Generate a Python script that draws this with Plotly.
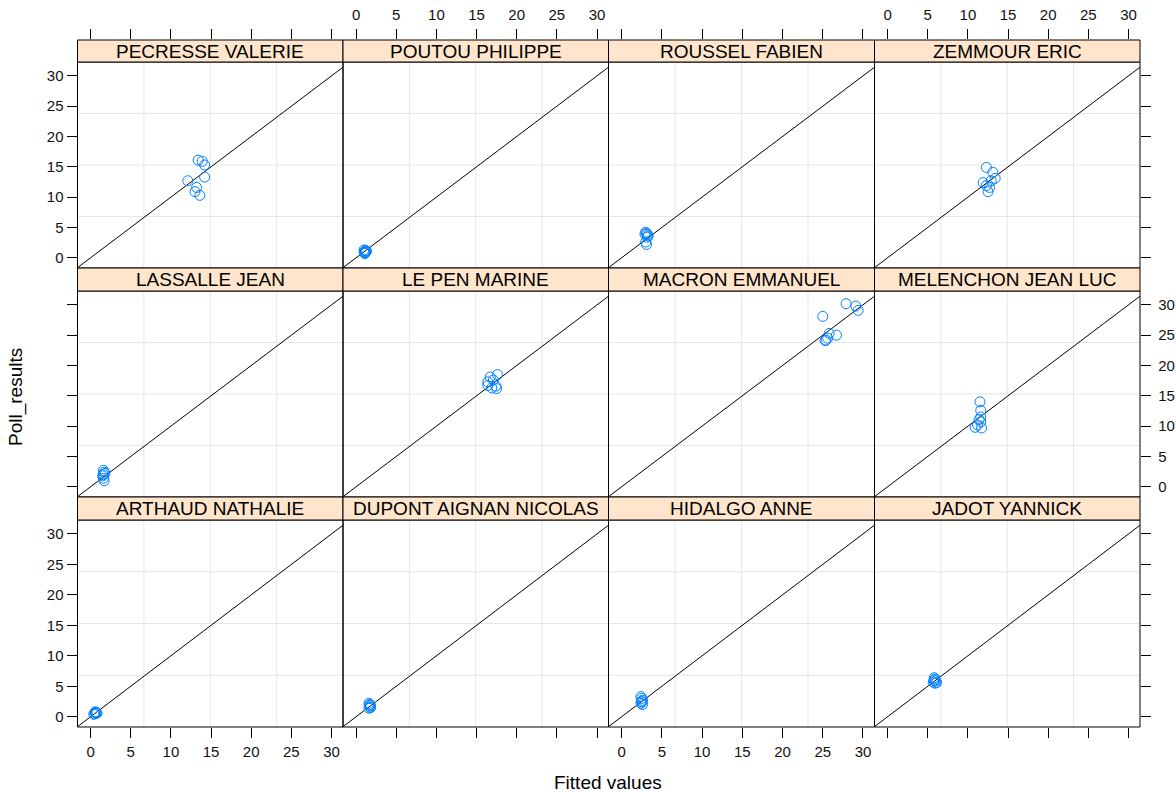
import plotly.graph_objects as go

# ---------------- data ----------------
candidates = [
    "PECRESSE VALERIE", "POUTOU PHILIPPE", "ROUSSEL FABIEN", "ZEMMOUR ERIC",
    "LASSALLE JEAN", "LE PEN MARINE", "MACRON EMMANUEL", "MELENCHON JEAN LUC",
    "ARTHAUD NATHALIE", "DUPONT AIGNAN NICOLAS", "HIDALGO ANNE", "JADOT YANNICK",
]

pecresse_fitted = [13.4, 13.9, 14.2, 12.1, 14.2, 13.2, 13.0, 13.6]
pecresse_poll = [16.1, 15.9, 15.3, 12.7, 13.3, 11.6, 10.9, 10.3]

poutou_fitted = [1.0, 1.1, 1.2, 1.1, 1.3, 1.0, 1.2, 1.1]
poutou_poll = [1.0, 0.8, 1.2, 0.7, 1.1, 1.3, 0.9, 1.0]

roussel_fitted = [3.0, 3.1, 3.3, 3.2, 3.0, 3.1, 3.2, 2.9]
roussel_poll = [4.2, 4.0, 3.6, 3.4, 2.6, 2.2, 3.8, 3.9]

zemmour_fitted = [12.3, 13.1, 13.4, 11.9, 12.9, 12.3, 12.7, 12.5]
zemmour_poll = [14.9, 14.1, 13.1, 12.4, 12.7, 11.9, 11.6, 10.9]

lassalle_fitted = [1.6, 1.7, 1.8, 1.5, 1.6, 1.7, 1.6]
lassalle_poll = [2.7, 2.4, 2.2, 1.8, 1.4, 1.0, 2.0]

lepen_fitted = [17.6, 16.7, 16.4, 17.1, 17.4, 16.9, 16.4, 17.5]
lepen_poll = [18.5, 18.1, 17.3, 17.6, 16.6, 16.3, 16.7, 16.2]

macron_fitted = [25.0, 27.9, 29.1, 29.4, 25.8, 26.7, 25.4, 25.6, 25.3]
macron_poll = [28.1, 30.2, 29.8, 29.1, 25.3, 25.0, 24.2, 24.5, 24.1]

melenchon_fitted = [11.5, 11.6, 11.6, 11.4, 10.9, 11.2, 11.7, 11.6]
melenchon_poll = [14.0, 12.6, 11.5, 11.1, 9.8, 10.2, 9.7, 10.7]

arthaud_fitted = [0.4, 0.6, 0.7, 0.6, 0.5, 0.8, 0.6]
arthaud_poll = [0.4, 0.7, 0.6, 0.8, 0.5, 0.6, 0.7]

dupont_fitted = [1.6, 1.7, 1.8, 1.7, 1.6, 1.8, 1.7]
dupont_poll = [2.2, 2.0, 1.8, 1.6, 1.4, 1.5, 1.9]

hidalgo_fitted = [2.4, 2.5, 2.6, 2.5, 2.4, 2.6, 2.5]
hidalgo_poll = [3.3, 3.0, 2.7, 2.4, 2.2, 2.0, 2.5]

jadot_fitted = [5.8, 5.9, 6.0, 5.7, 5.9, 6.1, 5.8]
jadot_poll = [6.4, 6.2, 5.9, 5.7, 5.5, 5.6, 6.0]

fitted_lists = [pecresse_fitted, poutou_fitted, roussel_fitted, zemmour_fitted,
                lassalle_fitted, lepen_fitted, macron_fitted, melenchon_fitted,
                arthaud_fitted, dupont_fitted, hidalgo_fitted, jadot_fitted]
poll_lists = [pecresse_poll, poutou_poll, roussel_poll, zemmour_poll,
              lassalle_poll, lepen_poll, macron_poll, melenchon_poll,
              arthaud_poll, dupont_poll, hidalgo_poll, jadot_poll]

x_title = "Fitted values"
y_title = "Poll_results"
tick_values = [0, 5, 10, 15, 20, 25, 30]

# ---------------- layout geometry ----------------
W, H = 1176, 793
col_px = [77.5, 343, 608.5, 874.5, 1140]
panel_rows_px = [(62, 268), (291, 497), (520, 727)]
strip_rows_px = [(40, 62), (268, 291), (497, 520)]


def px(x):
    return x / W


def py(y):
    return 1 - y / H


# lattice-style ranges (7% padding)
all_x = [v for l in fitted_lists for v in l]
all_y = [v for l in poll_lists for v in l]
pad = 0.07
xr = [min(all_x) - pad * (max(all_x) - min(all_x)), max(all_x) + pad * (max(all_x) - min(all_x))]
yr = [min(all_y) - pad * (max(all_y) - min(all_y)), max(all_y) + pad * (max(all_y) - min(all_y))]

FONT = "Liberation Sans, Arial, sans-serif"
POINT_COLOR = "#0080FF"
STRIP_BG = "#FFE5CC"
GRID = "#E6E6E6"
TICK_FONT = dict(family=FONT, size=15, color="#111111")
TICKLEN = 10
NBSP = "\u00a0"
right_text = [f"{NBSP}{v}" for v in tick_values]
plain_text = [str(v) for v in tick_values]

fig = go.Figure()
shapes = []
annotations = []
layout = {}

for i, name in enumerate(candidates):
    r, c = divmod(i, 4)
    n = i + 1
    xa = "x" if n == 1 else f"x{n}"
    ya = "y" if n == 1 else f"y{n}"
    xkey = "xaxis" if n == 1 else f"xaxis{n}"
    ykey = "yaxis" if n == 1 else f"yaxis{n}"

    # grid lines (3 equally spaced each way)
    for k in range(1, 4):
        gx = xr[0] + k * (xr[1] - xr[0]) / 4
        gy = yr[0] + k * (yr[1] - yr[0]) / 4
        shapes.append(dict(type="line", xref=xa, yref=f"{ya} domain", x0=gx, x1=gx, y0=0, y1=1,
                           line=dict(color=GRID, width=1), layer="below"))
        shapes.append(dict(type="line", xref=f"{xa} domain", yref=ya, x0=0, x1=1, y0=gy, y1=gy,
                           line=dict(color=GRID, width=1), layer="below"))

    # identity line
    lo = min(xr[0], yr[0]) - 5
    hi = max(xr[1], yr[1]) + 5
    fig.add_trace(go.Scatter(x=[lo, hi], y=[lo, hi], mode="lines",
                             line=dict(color="black", width=1),
                             xaxis=xa, yaxis=ya, showlegend=False, hoverinfo="skip"))
    # points
    fig.add_trace(go.Scatter(x=fitted_lists[i], y=poll_lists[i], mode="markers",
                             marker=dict(symbol="circle-open", size=10, color=POINT_COLOR,
                                         line=dict(width=1, color=POINT_COLOR)),
                             xaxis=xa, yaxis=ya, showlegend=False, name=name))

    top, bot = panel_rows_px[r]
    common = dict(showgrid=False, zeroline=False, showline=False, tickfont=TICK_FONT,
                  tickmode="array", tickvals=tick_values, ticks="", showticklabels=False,
                  ticklen=TICKLEN, tickcolor="black", automargin=False)
    x_ax = dict(domain=[px(col_px[c]), px(col_px[c + 1])], range=xr, anchor=ya,
                ticktext=plain_text, ticklabelstandoff=1, **common)
    if r == 2:
        x_ax.update(side="bottom", ticks="outside", showticklabels=(c % 2 == 0))
    y_ax = dict(domain=[py(bot), py(top)], range=yr, anchor=xa, ticktext=plain_text, **common)
    if c == 0:
        y_ax.update(side="left", ticks="outside", showticklabels=(r != 1))
    elif c == 3:
        y_ax.update(side="right", ticks="outside", showticklabels=(r == 1), ticktext=right_text)
    layout[xkey] = x_ax
    layout[ykey] = y_ax

    # panel border
    shapes.append(dict(type="rect", xref="paper", yref="paper",
                       x0=px(col_px[c]), x1=px(col_px[c + 1]), y0=py(bot), y1=py(top),
                       fillcolor="rgba(0,0,0,0)", line=dict(color="black", width=1), layer="above"))
    # strip
    s_top, s_bot = strip_rows_px[r]
    shapes.append(dict(type="rect", xref="paper", yref="paper",
                       x0=px(col_px[c]), x1=px(col_px[c + 1]), y0=py(s_bot), y1=py(s_top),
                       fillcolor=STRIP_BG, line=dict(color="black", width=1), layer="above"))
    annotations.append(dict(text=name, xref="paper", yref="paper",
                            x=(px(col_px[c]) + px(col_px[c + 1])) / 2, y=(py(s_bot) + py(s_top)) / 2,
                            xanchor="center", yanchor="middle", showarrow=False,
                            font=dict(family=FONT, size=19, color="black")))

# top axes above the strips of the first row
s_top = strip_rows_px[0][0]
layout["yaxis13"] = dict(domain=[py(panel_rows_px[0][1]), py(s_top)], range=yr, anchor="x13",
                         visible=False, automargin=False)
for c in range(4):
    n = 13 + c
    layout[f"xaxis{n}"] = dict(domain=[px(col_px[c]), px(col_px[c + 1])], range=xr,
                               anchor="y13", side="top", showgrid=False, zeroline=False,
                               showline=False, ticks="outside", ticklen=TICKLEN, tickcolor="black",
                               tickmode="array", tickvals=tick_values, ticktext=plain_text,
                               automargin=False, ticklabelstandoff=3,
                               showticklabels=(c % 2 == 1), tickfont=TICK_FONT)
    fig.add_trace(go.Scatter(x=[None], y=[None], xaxis=f"x{n}", yaxis="y13",
                             showlegend=False, hoverinfo="skip"))

annotations.append(dict(text=x_title, xref="paper", yref="paper", x=px(608), y=py(782),
                        xanchor="center", yanchor="middle", showarrow=False,
                        font=dict(family=FONT, size=19, color="black")))
annotations.append(dict(text=y_title, xref="paper", yref="paper", x=px(16), y=py(397),
                        xanchor="center", yanchor="middle", showarrow=False, textangle=-90,
                        font=dict(family=FONT, size=19, color="black")))

fig.update_layout(width=W, height=H, margin=dict(l=0, r=0, t=0, b=0),
                  paper_bgcolor="white", plot_bgcolor="rgba(0,0,0,0)",
                  shapes=shapes, annotations=annotations, showlegend=False, **layout)

fig.write_html("out.html", config={"displayModeBar": False},
               post_script="document.body.style.margin='0px';"
                           "document.documentElement.style.overflow='hidden';"
                           "document.body.style.overflow='hidden';")
